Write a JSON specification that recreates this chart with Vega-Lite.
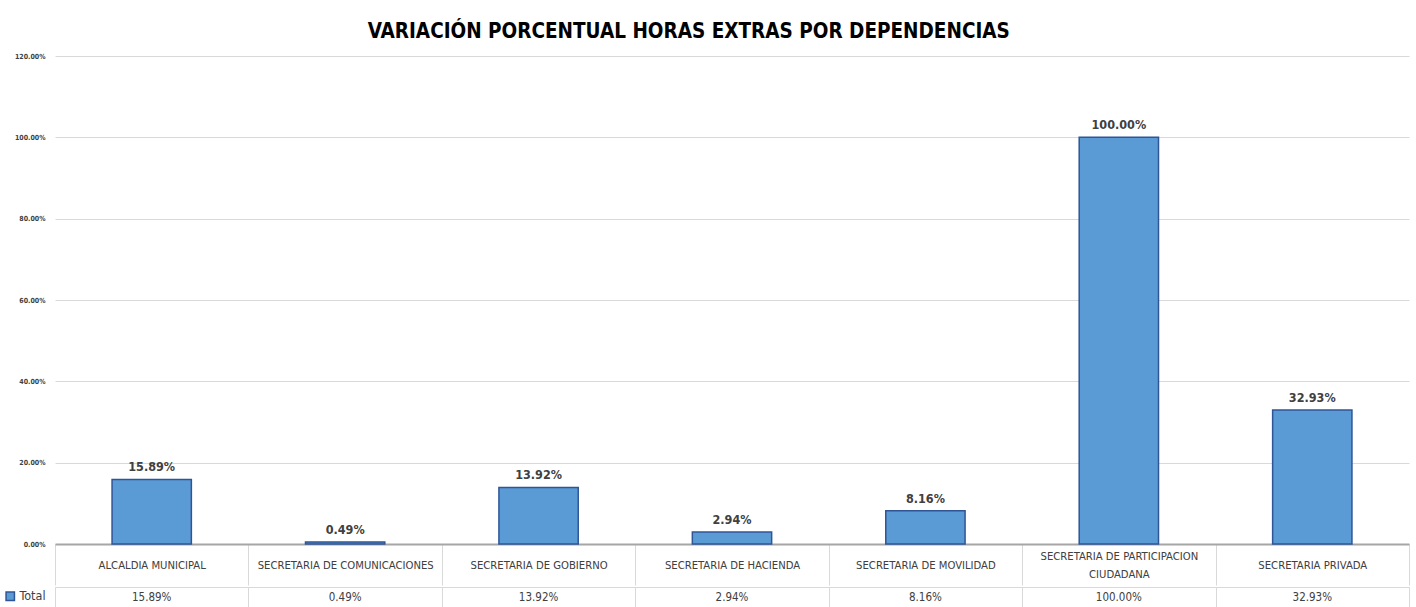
{
  "$schema": "https://vega.github.io/schema/vega-lite/v6.json",
  "padding": {"left": 0, "top": 21, "right": 7, "bottom": 0},
  "background": "white",
  "title": {
    "text": "VARIACIÓN PORCENTUAL HORAS EXTRAS POR DEPENDENCIAS",
    "font": "DejaVu Sans Condensed, Liberation Sans, sans-serif",
    "fontSize": 20.5,
    "fontWeight": "bold",
    "color": "#000000",
    "anchor": "middle",
    "offset": 10,
    "dx": -16
  },
  "spacing": 0,
  "data": {
    "values": [
      {"dependencia": "ALCALDIA MUNICIPAL", "valor": 0.1589, "serie": "Total"},
      {"dependencia": "SECRETARIA DE COMUNICACIONES", "valor": 0.0049, "serie": "Total"},
      {"dependencia": "SECRETARIA DE GOBIERNO", "valor": 0.1392, "serie": "Total"},
      {"dependencia": "SECRETARIA DE HACIENDA", "valor": 0.0294, "serie": "Total"},
      {"dependencia": "SECRETARIA DE MOVILIDAD", "valor": 0.0816, "serie": "Total"},
      {"dependencia": "SECRETARIA DE PARTICIPACION CIUDADANA", "valor": 1.0, "serie": "Total"},
      {"dependencia": "SECRETARIA PRIVADA", "valor": 0.3293, "serie": "Total"}
    ]
  },
  "vconcat": [
    {
      "width": 1354,
      "height": 488,
      "encoding": {
        "x": {
          "field": "dependencia",
          "type": "nominal",
          "sort": null,
          "scale": {"paddingInner": 0, "paddingOuter": 0},
          "axis": {
            "title": null,
            "labelAngle": 0,
            "labelExpr": "datum.label == 'SECRETARIA DE PARTICIPACION CIUDADANA' ? ['SECRETARIA DE PARTICIPACION', 'CIUDADANA'] : datum.label",
            "labelBaseline": "middle",
            "labelPadding": {"condition": {"test": "datum.value == 'SECRETARIA DE PARTICIPACION CIUDADANA'", "value": -29}, "value": -20},
            "labelLineHeight": 18,
            "labelFont": "DejaVu Sans Condensed, Liberation Sans, sans-serif",
            "labelFontSize": 11.2,
            "labelColor": "#404040",
            "labelLimit": 0,
            "tickBand": "extent",
            "tickSize": 41,
            "tickColor": "#d9d9d9",
            "tickWidth": 1,
            "domainColor": "#a6a6a6",
            "domainWidth": 2,
            "minExtent": 41,
            "maxExtent": 41
          }
        },
        "y": {
          "field": "valor",
          "type": "quantitative",
          "scale": {"domain": [0, 1.2], "nice": false},
          "axis": {
            "title": null,
            "format": ".2%",
            "values": [0, 0.2, 0.4, 0.6, 0.8, 1.0, 1.2],
            "labelFont": "DejaVu Sans Condensed, Liberation Sans, sans-serif",
            "labelFontSize": 7,
            "labelFontWeight": "bold",
            "labelColor": "#404040",
            "ticks": false,
            "domain": false,
            "labelPadding": 10,
            "gridColor": "#d9d9d9",
            "gridWidth": 1.2,
            "minExtent": 55,
            "maxExtent": 55
          }
        }
      },
      "layer": [
        {
          "mark": {"type": "bar", "width": {"band": 0.41}, "stroke": "#2f5597", "strokeWidth": 1.5},
          "encoding": {
            "color": {
              "field": "serie",
              "type": "nominal",
              "scale": {"range": ["#5b9bd5"]},
              "legend": {
                "title": null,
                "orient": "none",
                "legendX": -51,
                "legendY": 534,
                "symbolType": "square",
                "symbolSize": 70,
                "symbolStrokeColor": "#2f5597",
                "symbolStrokeWidth": 1.5,
                "labelFont": "DejaVu Sans Condensed, Liberation Sans, sans-serif",
                "labelFontSize": 12.5,
                "labelColor": "#404040",
                "labelOffset": 3,
                "padding": 0
              }
            }
          }
        },
        {
          "mark": {
            "type": "text",
            "baseline": "bottom",
            "dy": -5,
            "font": "DejaVu Sans Condensed, Liberation Sans, sans-serif",
            "fontSize": 12.5,
            "fontWeight": "bold",
            "color": "#404040"
          },
          "encoding": {
            "text": {"field": "valor", "type": "quantitative", "format": ".2%"}
          }
        }
      ]
    },
    {
      "width": 1354,
      "height": 22,
      "view": {"stroke": "#d9d9d9"},
      "mark": {
        "type": "text",
        "font": "DejaVu Sans Condensed, Liberation Sans, sans-serif",
        "fontSize": 11.5,
        "color": "#404040"
      },
      "encoding": {
        "x": {
          "field": "dependencia",
          "type": "nominal",
          "sort": null,
          "scale": {"paddingInner": 0, "paddingOuter": 0},
          "axis": {
            "title": null,
            "labels": false,
            "ticks": false,
            "domain": false,
            "grid": true,
            "tickBand": "extent",
            "gridColor": "#d9d9d9",
            "gridWidth": 1
          }
        },
        "text": {"field": "valor", "type": "quantitative", "format": ".2%"}
      }
    }
  ],
  "config": {"view": {"stroke": null}}
}
